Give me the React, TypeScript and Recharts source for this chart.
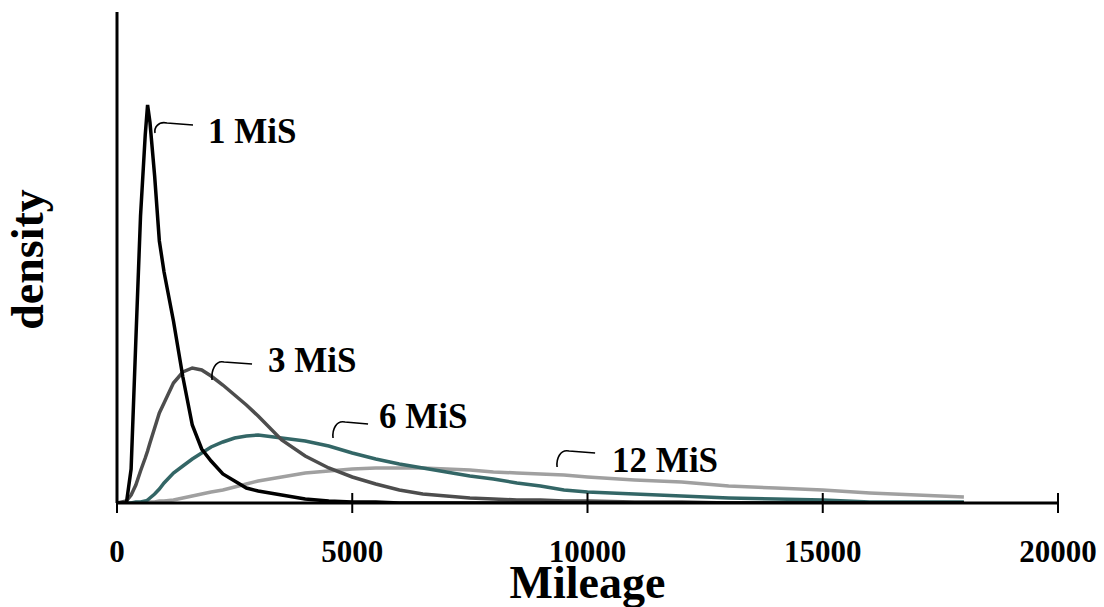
import React from 'react';
import { LineChart, Line, XAxis, YAxis, ReferenceDot } from 'recharts';

// mileage grid (finer near the origin where 1 MiS peaks)
const mileage = [0, 200, 300, 400, 500, 600, 650, 700, 800, 900, 1000, 1200, 1400, 1600, 1800, 2000, 2250, 2500, 2750, 3000, 3500, 4000, 4500, 5000, 5500, 6000, 6500, 7000, 7500, 8000, 8500, 9000, 9500, 10000, 11000, 12000, 13000, 14000, 15000, 16000, 17000, 18000];

// densities (arbitrary units)
const mis1 = [0, 0, 34, 162, 287, 368, 398, 381, 327, 262, 231, 182, 126, 78, 54, 42, 29, 22, 15, 12, 8, 4, 2, 1, 1, 0, 0, 0, 0, 0, 0, 0, 0, 0, 0, 0, 0, 0, 0, 0, 0, 0];
const mis3 = [0, 2, 8, 18, 32, 45, 52, 60, 75, 90, 100, 120, 131, 135, 133, 127, 118, 108, 98, 87, 63, 47, 35, 26, 19, 13, 9, 7, 5, 4, 3, 3, 2, 2, 1, 1, 0, 0, 0, 0, 0, 0];
const mis6 = [0, 0, 0, 1, 1, 2, 3, 5, 9, 14, 20, 30, 37, 44, 50, 56, 61, 65, 67, 68, 65, 62, 57, 50, 44, 39, 35, 31, 27, 24, 20, 17, 13, 11, 9, 7, 5, 4, 3, 1, 1, 1];
const mis12 = [0, 0, 0, 0, 0, 0, 1, 1, 1, 2, 2, 3, 5, 7, 9, 11, 13, 16, 19, 22, 26, 30, 32, 34, 35, 35, 35, 34, 33, 31, 30, 29, 28, 26, 23, 21, 17, 15, 13, 10, 8, 6];

const xTicks = [0, 5000, 10000, 15000, 20000];

// curve labels, anchored where the leader line leaves the curve
const labelNames = ['1 MiS', '3 MiS', '6 MiS', '12 MiS'];
const labelMileage = [808, 2020, 4592, 9354];
const labelDensity = [370, 123, 65, 36];

const LABEL_LAYOUT = [
    { lx: 38, ly: -8, tx: 53, ty: 10 },
    { lx: 40, ly: -16, tx: 56, ty: -8 },
    { lx: 35, ly: -14, tx: 46, ty: -10 },
    { lx: 38, ly: -14, tx: 55, ty: 5 },
];

const FONT = '"Liberation Serif", "Times New Roman", serif';

const data = mileage.map((m, i) => ({
    mileage: m,
    mis1: mis1[i],
    mis3: mis3[i],
    mis6: mis6[i],
    mis12: mis12[i],
}));

const MileageTick = (props: any) => {
    const { x, y, payload } = props;
    return (
        <g>
            <line x1={x} x2={x} y1={y - 10} y2={y + 10} stroke="#000" strokeWidth={2} />
            <text x={x} y={y + 59} textAnchor="middle" fontFamily={FONT} fontWeight="bold" fontSize={31} fill="#000">
                {payload.value}
            </text>
        </g>
    );
};

const MileageTitle = (props: any) => {
    const { x, y, width } = props.viewBox;
    return (
        <text x={x + width / 2} y={y + 95} textAnchor="middle" fontFamily={FONT} fontWeight="bold" fontSize={46} fill="#000">
            Mileage
        </text>
    );
};

const DensityTitle = (props: any) => {
    const { x, y, width, height } = props.viewBox;
    const cx = x + width - 74;
    const cy = y + height / 2 + 2;
    return (
        <text x={cx} y={cy} transform={`rotate(-90 ${cx} ${cy})`} textAnchor="middle" fontFamily={FONT} fontWeight="bold" fontSize={46} fill="#000">
            density
        </text>
    );
};

// small hand-drawn style leader: hooks up from the curve, then runs right to the text
const makeCurveLabel = (i: number) => (props: any) => {
    const { cx, cy } = props;
    const { lx, ly, tx, ty } = LABEL_LAYOUT[i];
    const d = `M ${cx} ${cy} C ${cx - 1} ${cy + (ly - 2) * 0.5}, ${cx + 3} ${cy + ly - 4}, ${cx + 12} ${cy + ly - 2} L ${cx + lx} ${cy + ly}`;
    return (
        <g>
            <path d={d} fill="none" stroke="#000" strokeWidth={1.6} />
            <text x={cx + tx} y={cy + ty} fontFamily={FONT} fontWeight="bold" fontSize={35} fill="#000">
                {labelNames[i]}
            </text>
        </g>
    );
};

const App: React.FC = () => {
    return (
        <div style={{ position: 'absolute', left: 0, top: 0, background: '#fff' }}>
            <LineChart width={1104} height={607} data={data} margin={{ top: 12, right: 46, left: 107, bottom: 44 }}>
                <XAxis
                    dataKey="mileage"
                    type="number"
                    domain={[0, 20000]}
                    ticks={xTicks}
                    allowDataOverflow
                    height={60}
                    tickSize={0}
                    tickMargin={0}
                    tickLine={false}
                    tick={MileageTick}
                    axisLine={{ stroke: '#000', strokeWidth: 3 }}
                    label={MileageTitle}
                />
                <YAxis
                    type="number"
                    domain={[0, 491]}
                    allowDataOverflow
                    width={10}
                    tick={false}
                    tickLine={false}
                    axisLine={{ stroke: '#000', strokeWidth: 3 }}
                    label={DensityTitle}
                />
                <Line type="linear" dataKey="mis12" stroke="#a0a0a0" strokeWidth={3.5} dot={false} isAnimationActive={false} />
                <Line type="linear" dataKey="mis6" stroke="#336666" strokeWidth={3.5} dot={false} isAnimationActive={false} />
                <Line type="linear" dataKey="mis3" stroke="#4d4d4d" strokeWidth={3.5} dot={false} isAnimationActive={false} />
                <Line type="linear" dataKey="mis1" stroke="#000000" strokeWidth={3.5} dot={false} isAnimationActive={false} />
                {labelNames.map((name, i) => (
                    <ReferenceDot
                        key={name}
                        x={labelMileage[i]}
                        y={labelDensity[i]}
                        r={0}
                        shape={makeCurveLabel(i)}
                    />
                ))}
            </LineChart>
        </div>
    );
};

export default App;
